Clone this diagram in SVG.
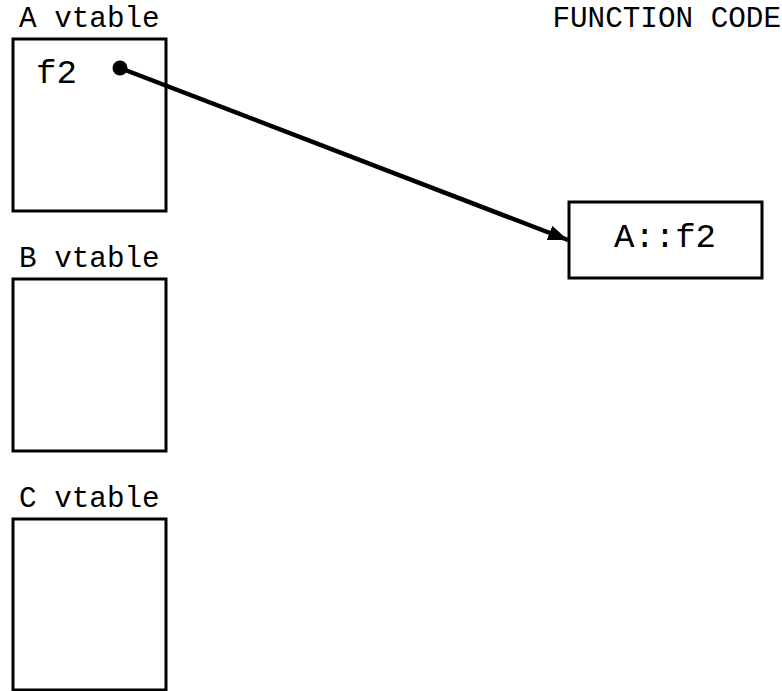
<svg xmlns="http://www.w3.org/2000/svg" width="782" height="691" viewBox="0 0 782 691">
<style>
.box{fill:#fff;stroke:#000;stroke-width:3}
.lbl{font-family:"Liberation Mono","Courier New",monospace;font-size:29.3px;fill:#000}
.big{font-family:"Liberation Mono","Courier New",monospace;font-size:34px;fill:#000}
.conn{stroke:#000;stroke-width:4.5;fill:none}
</style>
<defs>
<marker id="arr" markerWidth="4.4" markerHeight="3.4" refX="4.4" refY="1.7" orient="auto" markerUnits="strokeWidth">
<path d="M0,0 L4.4,1.7 L0,3.4 z" fill="#000"/>
</marker>
</defs>
<rect width="782" height="691" fill="#fff"/>
<text class="lbl" x="781" y="27" text-anchor="end">FUNCTION CODE</text>
<g id="a-vtable">
<text class="lbl" x="19" y="27">A vtable</text>
<rect class="box" x="13" y="39" width="153" height="172"/>
<text class="big" x="36" y="83">f2</text>
</g>
<g id="b-vtable">
<text class="lbl" x="19" y="267">B vtable</text>
<rect class="box" x="13" y="279" width="153" height="172"/>
</g>
<g id="c-vtable">
<text class="lbl" x="19" y="507">C vtable</text>
<rect class="box" x="13" y="519" width="153" height="171"/>
</g>
<g id="a-f2">
<rect class="box" x="569" y="202" width="193" height="76"/>
<text class="big" x="665" y="247" text-anchor="middle">A::f2</text>
</g>
<g id="connectors">
<circle cx="120" cy="68" r="7.5" fill="#000"/>
<line class="conn" x1="120" y1="68" x2="568" y2="240" marker-end="url(#arr)"/>
</g>
</svg>
